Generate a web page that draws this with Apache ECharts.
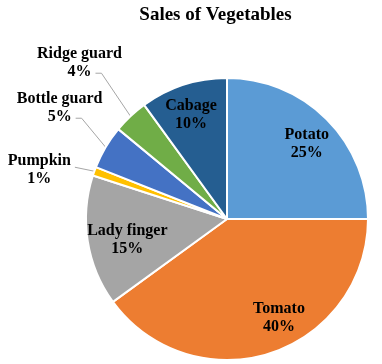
<!DOCTYPE html>
<html>
<head>
<meta charset="utf-8">
<script src="https://cdn.jsdelivr.net/npm/echarts@6/dist/echarts.min.js"></script>
<style>
html,body{margin:0;padding:0;background:#fff;}
#main{width:382px;height:364px;}
</style>
</head>
<body>
<div id="main"></div>
<script>
// ---- data ----
const titleText = 'Sales of Vegetables';
const categories = ['Potato', 'Tomato', 'Lady finger', 'Pumpkin', 'Bottle guard', 'Ridge guard', 'Cabage'];
const shares = [25, 40, 15, 1, 5, 4, 10];
const colors = ['#5B9BD5', '#ED7D31', '#A5A5A5', '#FFC000', '#4472C4', '#70AD47', '#255E91'];
const outsideNames = ['Pumpkin', 'Bottle guard', 'Ridge guard'];

// ---- layout / style ----
const CX = 227, CY = 219, R = 141;
const FONT = 'Liberation Serif';
const labelFont = 'bold 16px "Liberation Serif"';
// offsets of outside label blocks from the sector anchor, and line attach row
const outsideLayout = {
  'Ridge guard': { dx: -51, dy: -53, attach: 2, run: 6 },
  'Bottle guard': { dx: -46, dy: -39, attach: 2, run: 6 },
  'Pumpkin': { dx: -55, dy: -1, attach: 1, run: 0 }
};
const insideNudge = {
  'Potato': [2, 3], 'Tomato': [18, -6], 'Lady finger': [9, 4], 'Cabage': [-2, 0]
};

const ctx = document.createElement('canvas').getContext('2d');
function measure(t, font) { ctx.font = font || labelFont; return ctx.measureText(t).width; }

const pieData = categories.map((n, i) => ({ name: n, value: shares[i], itemStyle: { color: colors[i] } }));

const chart = echarts.init(document.getElementById('main'), null, { renderer: 'canvas' });
const titleW = measure(titleText, 'bold 19px "Liberation Serif"');

chart.setOption({
  animation: false,
  backgroundColor: '#fff',
  title: {
    text: titleText,
    left: 215.5 - titleW / 2,
    top: 6,
    padding: 0,
    textStyle: { fontFamily: FONT, fontWeight: 'bold', fontSize: 19, color: '#000' }
  },
  series: [
    {
      type: 'pie',
      center: [CX, CY],
      radius: R,
      startAngle: 90,
      clockwise: true,
      avoidLabelOverlap: false,
      silent: true,
      itemStyle: { borderColor: '#fff', borderWidth: 2 },
      label: {
        show: true,
        position: 'outside',
        formatter: '{b}\n{d}%',
        fontFamily: FONT, fontWeight: 'bold', fontSize: 16, lineHeight: 18,
        color: '#000', align: 'center'
      },
      labelLine: { show: true, length: 20, length2: 6, lineStyle: { color: '#A6A6A6', width: 1 } },
      labelLayout: function (p) {
        const name = categories[p.dataIndex];
        const cfg = outsideLayout[name];
        if (!cfg || !p.labelLinePoints) return {};
        const a = p.labelLinePoints[0];
        const x = a[0] + cfg.dx, y = a[1] + cfg.dy;
        const lineText = cfg.attach === 1 ? name : shares[p.dataIndex] + '%';
        const w = measure(lineText);
        const ly = y + (cfg.attach === 1 ? -3 : 10);
        const end = [x + w / 2 + 4, ly];
        const elbow = [end[0] + cfg.run, ly];
        return { x: x, y: y, align: 'center', verticalAlign: 'middle', labelLinePoints: [a.slice(), elbow, end] };
      },
      data: pieData.map(d => Object.assign({}, d, {
        label: { show: outsideNames.indexOf(d.name) >= 0 },
        labelLine: { show: outsideNames.indexOf(d.name) >= 0 }
      }))
    },
    {
      type: 'pie',
      center: [CX, CY],
      radius: [73, R],
      startAngle: 90,
      clockwise: true,
      silent: true,
      avoidLabelOverlap: false,
      itemStyle: { color: 'rgba(0,0,0,0)', borderWidth: 0 },
      label: {
        show: true,
        position: 'inside',
        formatter: '{b}\n{d}%',
        fontFamily: FONT, fontWeight: 'bold', fontSize: 16, lineHeight: 18,
        color: '#000', align: 'center'
      },
      labelLine: { show: false },
      labelLayout: function (p) {
        const nd = insideNudge[categories[p.dataIndex]];
        return nd ? { dx: nd[0], dy: nd[1] } : {};
      },
      data: categories.map((n, i) => ({
        name: n, value: shares[i],
        itemStyle: { color: 'rgba(0,0,0,0)' },
        label: { show: outsideNames.indexOf(n) < 0 }
      }))
    }
  ]
});
</script>
</body>
</html>
